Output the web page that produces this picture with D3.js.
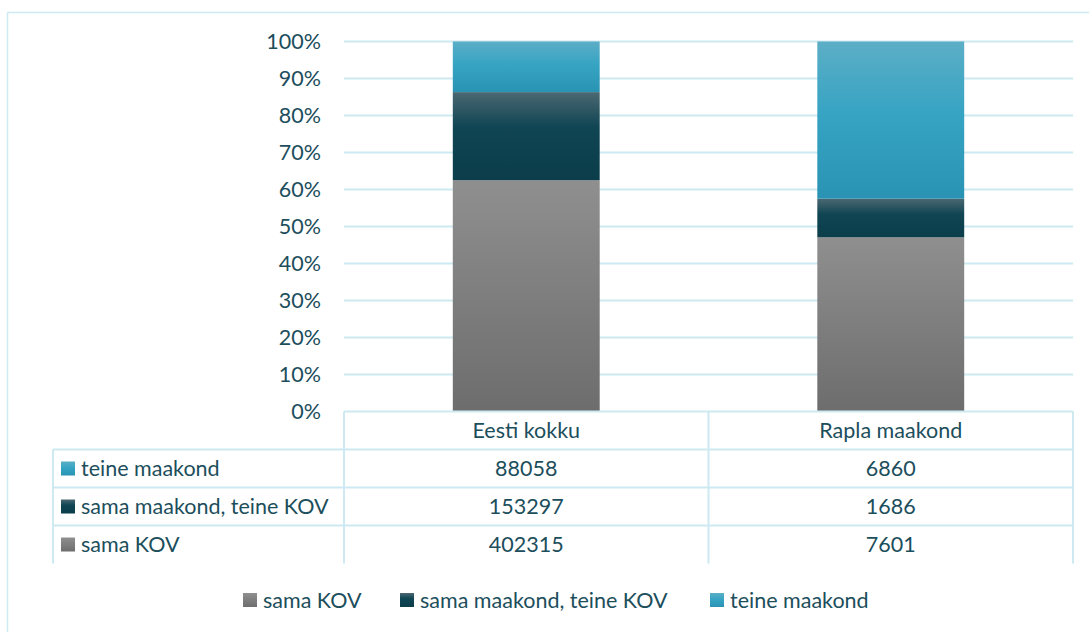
<!DOCTYPE html>
<html lang="et">
<head>
<meta charset="utf-8">
<style>
  body { margin: 0; background: #fff; }
  text { font-family: Lato, "Open Sans", sans-serif; fill: #1c4e5c; }
</style>
</head>
<body>
<script src="https://cdn.jsdelivr.net/npm/d3@7"></script>
<script>
// data
var categories = ["Eesti kokku", "Rapla maakond"];
var seriesNames = ["sama KOV", "sama maakond, teine KOV", "teine maakond"];
var samaKOV = [402315, 7601];
var samaMaakond = [153297, 1686];
var teineMaakond = [88058, 6860];
var yTicks = [0, 0.1, 0.2, 0.3, 0.4, 0.5, 0.6, 0.7, 0.8, 0.9, 1];

var W = 1089, H = 632;
var plotLeft = 344, plotRight = 1073, plotTop = 41.5, plotBottom = 411.5;
var rowH = 38;
var labelLeft = 53;
var fs = 21.5;

var rows = categories.map(function(c, i) {
  var r = { cat: c };
  r[seriesNames[0]] = samaKOV[i];
  r[seriesNames[1]] = samaMaakond[i];
  r[seriesNames[2]] = teineMaakond[i];
  return r;
});
var seriesValues = {};
seriesValues[seriesNames[0]] = samaKOV;
seriesValues[seriesNames[1]] = samaMaakond;
seriesValues[seriesNames[2]] = teineMaakond;

var svg = d3.select("body").append("svg")
  .attr("width", W).attr("height", H);

// gradients, one per series, relative to each segment
var grads = {
  "sama KOV": [["0%", "#8f8f8f"], ["100%", "#6d6d6d"]],
  "sama maakond, teine KOV": [["0%", "#4b6872"], ["40%", "#104553"], ["100%", "#0b3d4a"]],
  "teine maakond": [["0%", "#5caec6"], ["45%", "#37a4c3"], ["100%", "#2a93b3"]]
};
var defs = svg.append("defs");
seriesNames.forEach(function(s, i) {
  var g = defs.append("linearGradient").attr("id", "g" + i)
    .attr("x1", 0).attr("y1", 0).attr("x2", 0).attr("y2", 1);
  grads[s].forEach(function(st) {
    g.append("stop").attr("offset", st[0]).attr("stop-color", st[1]);
  });
});
function fill(s) { return "url(#g" + seriesNames.indexOf(s) + ")"; }

var lineCol = "#cde9f2";

// outer frame
svg.append("rect")
  .attr("x", 7.5).attr("y", 12.5).attr("width", 1100).attr("height", 640)
  .attr("fill", "none").attr("stroke", lineCol).attr("stroke-width", 1.5);

var x = d3.scaleBand().domain(categories).range([plotLeft, plotRight]).padding(0);
var y = d3.scaleLinear().domain([0, 1]).range([plotBottom, plotTop]);

// gridlines
svg.append("g").selectAll("line")
  .data(yTicks.slice(1))
  .join("line")
  .attr("x1", plotLeft).attr("x2", plotRight)
  .attr("y1", function(d) { return y(d); })
  .attr("y2", function(d) { return y(d); })
  .attr("stroke", lineCol).attr("stroke-width", 2);

// y axis labels
var yAxis = svg.append("g")
  .attr("transform", "translate(" + (plotLeft - 23) + ",0)")
  .call(d3.axisLeft(y).tickValues(yTicks).tickFormat(d3.format(".0%")).tickSize(0).tickPadding(0));
yAxis.select(".domain").remove();
yAxis.selectAll("text")
  .attr("font-size", fs).attr("fill", "#1c4e5c")
  .style("font-family", "Lato, sans-serif");

// bars
var stack = d3.stack().keys(seriesNames).offset(d3.stackOffsetExpand);
var barW = x.bandwidth() * 0.403;
svg.append("g").selectAll("g")
  .data(stack(rows))
  .join("g")
  .attr("fill", function(d) { return fill(d.key); })
  .selectAll("rect")
  .data(function(d) { return d; })
  .join("rect")
  .attr("x", function(d) { return x(d.data.cat) + (x.bandwidth() - barW) / 2; })
  .attr("width", barW)
  .attr("y", function(d) { return y(d[1]); })
  .attr("height", function(d) { return y(d[0]) - y(d[1]); });

// data table
var tableRows = seriesNames.slice().reverse();
var tb = svg.append("g");
var tLine = function(x1, y1, x2, y2) {
  tb.append("line").attr("x1", x1).attr("y1", y1).attr("x2", x2).attr("y2", y2)
    .attr("stroke", lineCol).attr("stroke-width", 2);
};
tLine(plotLeft, plotBottom, plotRight, plotBottom);
for (var r = 1; r <= tableRows.length; r++) tLine(labelLeft, plotBottom + r * rowH, plotRight, plotBottom + r * rowH);
tLine(labelLeft, plotBottom + rowH, labelLeft, plotBottom + 4 * rowH);
x.domain().forEach(function(c) { tLine(x(c), plotBottom, x(c), plotBottom + 4 * rowH); });
tLine(plotRight, plotBottom, plotRight, plotBottom + 4 * rowH);

tb.selectAll("text.hdr")
  .data(categories)
  .join("text").attr("class", "hdr")
  .attr("x", function(d) { return x(d) + x.bandwidth() / 2; })
  .attr("y", plotBottom + rowH / 2)
  .attr("dy", "0.35em").attr("text-anchor", "middle").attr("font-size", fs)
  .text(function(d) { return d; });

tableRows.forEach(function(s, ri) {
  var cy = plotBottom + (ri + 1.5) * rowH;
  tb.append("rect").attr("x", 61).attr("y", cy - 7).attr("width", 14).attr("height", 14)
    .attr("fill", fill(s));
  tb.append("text").attr("x", 81).attr("y", cy).attr("dy", "0.35em")
    .attr("font-size", fs).text(s);
  tb.selectAll(null)
    .data(seriesValues[s])
    .join("text")
    .attr("x", function(d, i) { return x(categories[i]) + x.bandwidth() / 2; })
    .attr("y", cy).attr("dy", "0.35em").attr("text-anchor", "middle").attr("font-size", fs)
    .text(function(d) { return d; });
});

// legend
var legendX = [243, 400, 710];
var lg = svg.append("g").selectAll("g")
  .data(seriesNames)
  .join("g")
  .attr("transform", function(d, i) { return "translate(" + legendX[i] + ",600)"; });
lg.append("rect").attr("x", 0).attr("y", -7).attr("width", 14).attr("height", 14)
  .attr("fill", function(d) { return fill(d); });
lg.append("text").attr("x", 20).attr("dy", "0.35em").attr("font-size", fs)
  .text(function(d) { return d; });
</script>
</body>
</html>
